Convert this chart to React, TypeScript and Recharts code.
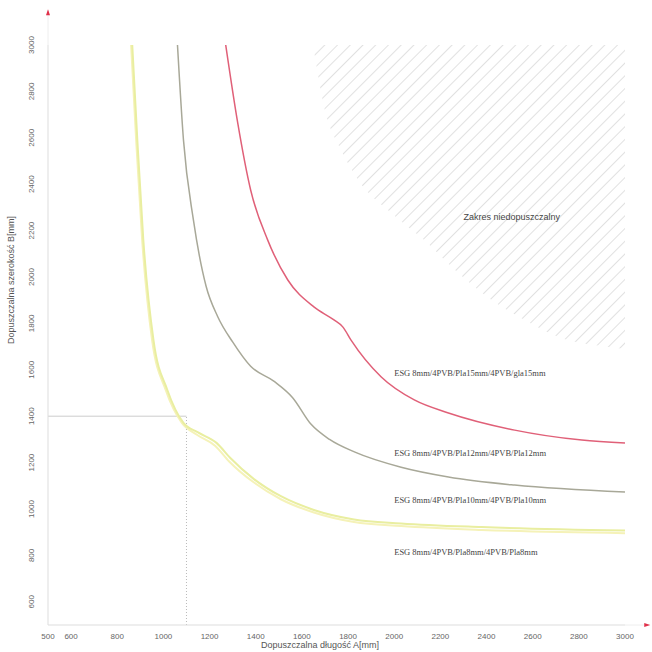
import React from 'react';
import {
  ComposedChart,
  Line,
  Area,
  XAxis,
  YAxis,
  ReferenceLine,
  ReferenceDot,
  Label,
} from 'recharts';

// curves (x = długość A, y = szerokość B)
const redCurve = [
  { x: 1270, y: 3000 },
  { x: 1322, y: 2664 },
  { x: 1378, y: 2375 },
  { x: 1452, y: 2159 },
  { x: 1539, y: 1987 },
  { x: 1652, y: 1871 },
  { x: 1739, y: 1815 },
  { x: 1778, y: 1784 },
  { x: 1813, y: 1728 },
  { x: 1944, y: 1569 },
  { x: 2087, y: 1470 },
  { x: 2235, y: 1414 },
  { x: 2522, y: 1340 },
  { x: 2813, y: 1297 },
  { x: 3000, y: 1284 },
];

const grayCurve = [
  { x: 1061, y: 3000 },
  { x: 1087, y: 2590 },
  { x: 1130, y: 2246 },
  { x: 1185, y: 1960 },
  { x: 1235, y: 1830 },
  { x: 1300, y: 1720 },
  { x: 1378, y: 1615 },
  { x: 1480, y: 1550 },
  { x: 1560, y: 1480 },
  { x: 1640, y: 1365 },
  { x: 1720, y: 1300 },
  { x: 1830, y: 1245 },
  { x: 2030, y: 1180 },
  { x: 2235, y: 1138 },
  { x: 2522, y: 1103 },
  { x: 3000, y: 1073 },
];

const yellowCurve = [
  { x: 865, y: 3000 },
  { x: 887, y: 2590 },
  { x: 913, y: 2159 },
  { x: 957, y: 1728 },
  { x: 1017, y: 1513 },
  { x: 1087, y: 1371 },
  { x: 1150, y: 1330 },
  { x: 1230, y: 1285 },
  { x: 1290, y: 1220 },
  { x: 1391, y: 1130 },
  { x: 1509, y: 1055 },
  { x: 1652, y: 996 },
  { x: 1826, y: 955 },
  { x: 2030, y: 938 },
  { x: 2378, y: 922 },
  { x: 3000, y: 907 },
];

const paleCurve = [
  { x: 860, y: 3000 },
  { x: 882, y: 2590 },
  { x: 908, y: 2159 },
  { x: 951, y: 1728 },
  { x: 1010, y: 1513 },
  { x: 1080, y: 1371 },
  { x: 1145, y: 1320 },
  { x: 1225, y: 1272 },
  { x: 1285, y: 1205 },
  { x: 1391, y: 1115 },
  { x: 1509, y: 1042 },
  { x: 1652, y: 985 },
  { x: 1826, y: 944 },
  { x: 2030, y: 927 },
  { x: 2378, y: 910 },
  { x: 3000, y: 896 },
];

// lower edge of the forbidden zone
const forbiddenEdge = [
  { x: 1652, y: 2978 },
  { x: 1696, y: 2734 },
  { x: 1770, y: 2547 },
  { x: 1844, y: 2418 },
  { x: 1987, y: 2276 },
  { x: 2130, y: 2159 },
  { x: 2278, y: 2017 },
  { x: 2422, y: 1901 },
  { x: 2565, y: 1815 },
  { x: 2713, y: 1741 },
  { x: 2930, y: 1698 },
  { x: 3000, y: 1690 },
];

const xTicks = [500, 600, 800, 1000, 1200, 1400, 1600, 1800, 2000, 2200, 2400, 2600, 2800, 3000];
const yTicks = [600, 800, 1000, 1200, 1400, 1600, 1800, 2000, 2200, 2400, 2600, 2800, 3000];

const curveLabels = [
  { text: 'ESG 8mm/4PVB/Pla15mm/4PVB/gla15mm', y: 1586 },
  { text: 'ESG 8mm/4PVB/Pla12mm/4PVB/Pla12mm', y: 1241 },
  { text: 'ESG 8mm/4PVB/Pla10mm/4PVB/Pla10mm', y: 1039 },
  { text: 'ESG 8mm/4PVB/Pla8mm/4PVB/Pla8mm', y: 815 },
];

const limitA = 1100;
const limitB = 1400;

const YTick = (props: any) => {
  const { x, y, payload } = props;
  return (
    <text
      x={x - 6}
      y={y}
      transform={`rotate(-90, ${x - 6}, ${y})`}
      textAnchor="middle"
      fontSize={8}
      fill="#666"
      fontFamily="Liberation Sans, sans-serif"
    >
      {payload.value}
    </text>
  );
};

const Arrow = (props: any) => {
  const { cx, cy, dir } = props;
  if (dir === 'up') {
    return <path d={`M${cx - 2},${cy + 5} L${cx},${cy - 1} L${cx + 2},${cy + 5} Z`} fill="#e0304a" />;
  }
  return <path d={`M${cx - 5},${cy - 2} L${cx + 1},${cy} L${cx - 5},${cy + 2} Z`} fill="#e0304a" />;
};

export default function App() {
  return (
    <div style={{ position: 'absolute', left: 0, top: 0, background: '#fff' }}>
      <ComposedChart
        width={652}
        height={652}
        margin={{ top: 45, right: 27, left: 0, bottom: 0 }}
      >
        <defs>
          <pattern
            id="hatch"
            width="9"
            height="9"
            patternUnits="userSpaceOnUse"
            patternTransform="rotate(45)"
          >
            <line x1="0" y1="0" x2="0" y2="9" stroke="#dedede" strokeWidth="1.8" />
          </pattern>
        </defs>
        <XAxis
          type="number"
          dataKey="x"
          domain={[500, 3000]}
          ticks={xTicks}
          height={27}
          tickLine={false}
          axisLine={{ stroke: '#ddd' }}
          tick={{ fontSize: 8, fill: '#666', fontFamily: 'Liberation Sans, sans-serif' }}
          tickMargin={2}
          interval={0}
        >
          <Label
            content={() => (
              <text x={320} y={648} textAnchor="middle" fontSize={9} fill="#555" fontFamily="Liberation Sans, sans-serif">
                Dopuszczalna długość A[mm]
              </text>
            )}
          />
        </XAxis>
        <YAxis
          type="number"
          domain={[500, 3000]}
          ticks={yTicks}
          width={48}
          tickLine={false}
          axisLine={{ stroke: '#ddd' }}
          tick={<YTick />}
          interval={0}
        >
          <Label
            content={() => (
              <text
                x={14}
                y={280}
                transform="rotate(-90, 14, 280)"
                textAnchor="middle"
                fontSize={9}
                fill="#555"
                fontFamily="Liberation Sans, sans-serif"
              >
                Dopuszczalna szerokość B[mm]
              </text>
            )}
          />
        </YAxis>

        <Area
          data={forbiddenEdge}
          dataKey={(d: any) => [d.y, 3000]}
          type="monotone"
          stroke="none"
          fill="url(#hatch)"
          fillOpacity={1}
          isAnimationActive={false}
        />

        <ReferenceLine
          segment={[{ x: 500, y: limitB }, { x: limitA, y: limitB }]}
          stroke="#ccc"
          strokeWidth={1}
        />
        <ReferenceLine
          segment={[{ x: limitA, y: 500 }, { x: limitA, y: limitB }]}
          stroke="#bbb"
          strokeDasharray="1 2"
        />

        <Line data={paleCurve} dataKey="y" type="monotone" stroke="#f5f2b8" strokeWidth={2} dot={false} isAnimationActive={false} />
        <Line data={yellowCurve} dataKey="y" type="monotone" stroke="#e9eea0" strokeWidth={2} dot={false} isAnimationActive={false} />
        <Line data={grayCurve} dataKey="y" type="monotone" stroke="#a8a898" strokeWidth={1.5} dot={false} isAnimationActive={false} />
        <Line data={redCurve} dataKey="y" type="monotone" stroke="#e06078" strokeWidth={1.5} dot={false} isAnimationActive={false} />

        <ReferenceDot
          x={2509}
          y={2258}
          r={0}
          ifOverflow="visible"
          label={{ value: 'Zakres niedopuszczalny', fontSize: 9, fill: '#444', fontFamily: 'Liberation Sans, sans-serif', position: 'center' }}
        />
        {curveLabels.map((c) => (
          <ReferenceDot
            key={c.text}
            x={2000}
            y={c.y}
            r={0}
            ifOverflow="visible"
            label={{ value: c.text, fontSize: 8.5, fill: '#444', fontFamily: 'Liberation Serif, serif', position: 'right', offset: 0 }}
          />
        ))}

        <ReferenceLine segment={[{ x: 500, y: 3000 }, { x: 500, y: 3150 }]} stroke="#eee" ifOverflow="visible" />
        <ReferenceLine segment={[{ x: 3000, y: 500 }, { x: 3105, y: 500 }]} stroke="#eee" ifOverflow="visible" />
        <ReferenceDot x={500} y={3150} r={0} ifOverflow="visible" shape={(p: any) => <Arrow {...p} dir="up" />} />
        <ReferenceDot x={3105} y={500} r={0} ifOverflow="visible" shape={(p: any) => <Arrow {...p} dir="right" />} />
      </ComposedChart>
    </div>
  );
}
